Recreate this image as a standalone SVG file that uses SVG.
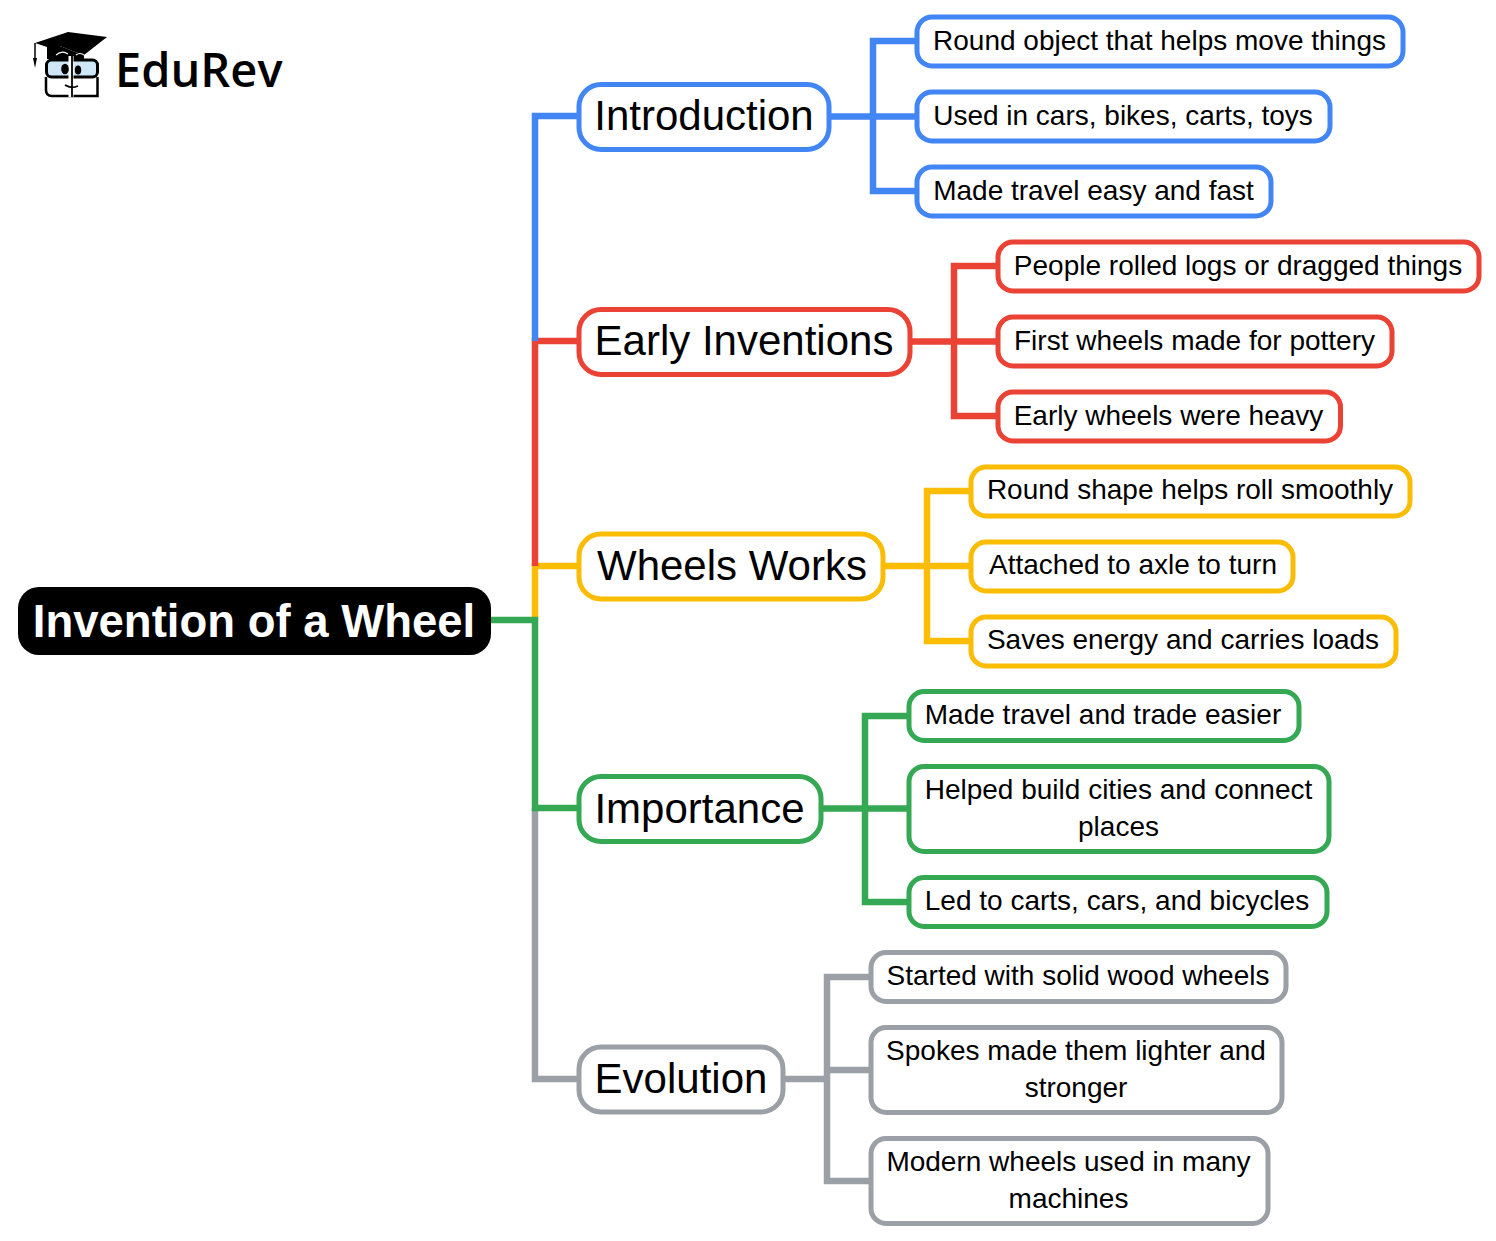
<svg xmlns="http://www.w3.org/2000/svg" width="1496" height="1241" viewBox="0 0 1496 1241">
<style>
text{font-family:"Liberation Sans",Arial,sans-serif;fill:#000}
.c{fill:none;stroke-width:6.5}
.n{fill:#fff;stroke-width:5}
.m{font-size:42px;text-anchor:middle}
.l{font-size:28px;text-anchor:middle}
.bl{stroke:#4285f4}.re{stroke:#ea4335}.ye{stroke:#fbbc04}.gr{stroke:#34a853}.gy{stroke:#9aa0a6}
</style>
<rect width="1496" height="1241" fill="#fff"/>
<g id="logo">
<path d="M35 43L68 32L107 37L84 55L75 52L60 46L47 47Z" fill="#000"/>
<path d="M47 46V59H84V55L75 52L60 46Z" fill="#000"/>
<path d="M35 43V60" stroke="#000" stroke-width="1.5"/>
<path d="M33 58h4l-2 10z" fill="#000"/>
<path d="M56 55Q62 50 68 54M76 55Q80 52 84 55" fill="none" stroke="#fff" stroke-width="1.2"/>
<rect x="46.500" y="60" width="51" height="17" rx="5" fill="#cfe6f7" stroke="#000" stroke-width="3"/>
<path d="M46 77V90Q46 96 52 96H97.500V77" fill="none" stroke="#000" stroke-width="2.500"/>
<path d="M71 56V97" stroke="#fff" stroke-width="5"/>
<path d="M72 56V97" stroke="#000" stroke-width="1.800"/>
<ellipse cx="65" cy="69" rx="3.800" ry="5.200" fill="#000"/><ellipse cx="78" cy="70" rx="3.200" ry="4.500" fill="#000"/>
<path d="M65 85Q71 89 78 86" fill="none" stroke="#000" stroke-width="1.800"/>
<text x="115" y="87" style="font-family:'Open Sans',sans-serif;font-weight:600;font-size:47px">EduRev</text>
</g>
<g id="connectors">
<path class="c ye" d="M535 620V566H579"/>
<path class="c re" d="M535 566V341H579"/>
<path class="c bl" d="M535 341V116H579"/>
<path class="c gy" d="M535 808V1079H579"/>
<path class="c gr" d="M491 620H535V808H579"/>
<path class="c bl" d="M829 116.500H917M917 41H873V191H917"/>
<path class="c re" d="M910 341.500H998M998 266H954V416H998"/>
<path class="c ye" d="M883 566H971M971 491H927V641H971"/>
<path class="c gr" d="M821 808.500H909M909 716H865V902H909"/>
<path class="c gy" d="M783 1079H827M871 977H827V1181H871M827 1070H871"/>
</g>
<g id="root"><rect x="18" y="587" width="473" height="68" rx="21" fill="#000"/><text x="254" y="637" style="font-size:45.500px;font-weight:700;fill:#fff;text-anchor:middle">Invention of a Wheel</text></g>
<g id="introduction"><rect class="n bl" x="579" y="84.500" width="250" height="65" rx="22"/><text class="m" x="704" y="130">Introduction</text></g>
<g id="early"><rect class="n re" x="579" y="309.500" width="331" height="65" rx="22"/><text class="m" x="744" y="355">Early Inventions</text></g>
<g id="works"><rect class="n ye" x="579" y="534" width="304" height="65" rx="22"/><text class="m" x="732" y="580">Wheels Works</text></g>
<g id="importance"><rect class="n gr" x="579" y="776.500" width="242" height="65" rx="22"/><text class="m" x="699.500" y="823">Importance</text></g>
<g id="evolution"><rect class="n gy" x="579" y="1047" width="204" height="65" rx="22"/><text class="m" x="681" y="1093">Evolution</text></g>
<g id="i1"><rect class="n bl" x="917" y="17" width="486" height="49" rx="15"/><text class="l" x="1159.500" y="50">Round object that helps move things</text></g>
<g id="i2"><rect class="n bl" x="917" y="92" width="413" height="49" rx="15"/><text class="l" x="1123" y="125">Used in cars, bikes, carts, toys</text></g>
<g id="i3"><rect class="n bl" x="917" y="167" width="354" height="49" rx="15"/><text class="l" x="1093.500" y="200">Made travel easy and fast</text></g>
<g id="e1"><rect class="n re" x="998" y="242" width="481" height="49" rx="15"/><text class="l" x="1238" y="275">People rolled logs or dragged things</text></g>
<g id="e2"><rect class="n re" x="998" y="317" width="394" height="49" rx="15"/><text class="l" x="1194.500" y="350">First wheels made for pottery</text></g>
<g id="e3"><rect class="n re" x="998" y="392" width="342.500" height="49" rx="15"/><text class="l" x="1168.500" y="425">Early wheels were heavy</text></g>
<g id="w1"><rect class="n ye" x="971" y="467" width="439" height="49" rx="15"/><text class="l" x="1190" y="499">Round shape helps roll smoothly</text></g>
<g id="w2"><rect class="n ye" x="971" y="542" width="322" height="49" rx="15"/><text class="l" x="1133" y="574">Attached to axle to turn</text></g>
<g id="w3"><rect class="n ye" x="971" y="617" width="425" height="49" rx="15"/><text class="l" x="1183" y="649">Saves energy and carries loads</text></g>
<g id="m1"><rect class="n gr" x="909" y="691.500" width="390" height="49" rx="15"/><text class="l" x="1103" y="724">Made travel and trade easier</text></g>
<g id="m2"><rect class="n gr" x="909" y="766.500" width="420" height="85" rx="15"/><text class="l" x="1118.500" y="799">Helped build cities and connect</text><text class="l" x="1118.500" y="836">places</text></g>
<g id="m3"><rect class="n gr" x="909" y="877.500" width="418" height="49" rx="15"/><text class="l" x="1117" y="910">Led to carts, cars, and bicycles</text></g>
<g id="v1"><rect class="n gy" x="871" y="952.500" width="415" height="49" rx="15"/><text class="l" x="1078" y="985">Started with solid wood wheels</text></g>
<g id="v2"><rect class="n gy" x="871" y="1027.500" width="411" height="85" rx="15"/><text class="l" x="1076" y="1060">Spokes made them lighter and</text><text class="l" x="1076" y="1097">stronger</text></g>
<g id="v3"><rect class="n gy" x="871" y="1138.500" width="397" height="85" rx="15"/><text class="l" x="1068.500" y="1171">Modern wheels used in many</text><text class="l" x="1068.500" y="1208">machines</text></g>
</svg>
